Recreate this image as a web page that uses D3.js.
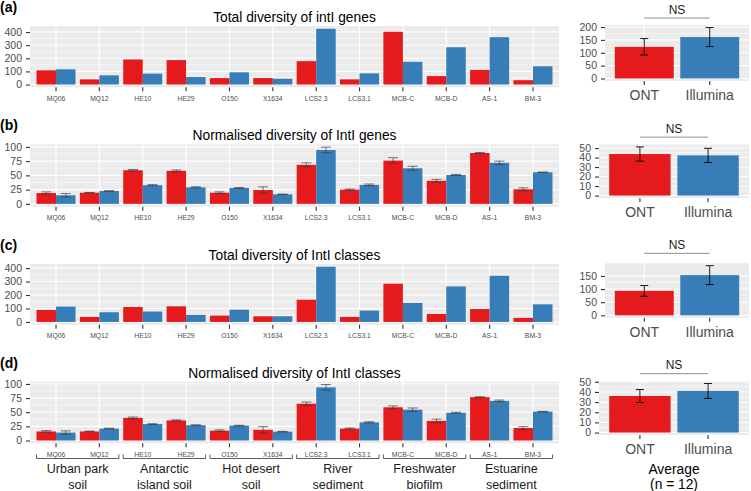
<!DOCTYPE html>
<html><head><meta charset="utf-8">
<script src="https://cdn.jsdelivr.net/npm/d3@7"></script>
<style>
body{margin:0;background:#fff}
svg{display:block}
</style>
</head><body>
<svg id="chart" width="751" height="491"></svg>
<script>
// ---------------- DATA ----------------
const sites = ["MQ06","MQ12","HE10","HE29","O150","X1634","LCS2.3","LCS3.1","MCB-C","MCB-D","AS-1","BM-3"];
const habitats = [["Urban park","soil"],["Antarctic","island soil"],["Hot desert","soil"],["River","sediment"],["Freshwater","biofilm"],["Estuarine","sediment"]];
const methods = ["ONT","Illumina"];

const totalGenesONT = [108,39,191,186,49,49,178,39,402,64,111,33];
const totalGenesIll = [116,70,83,57,93,44,425,85,173,284,361,139];

const normGenesONT    = [19,19.6,59,58,19.6,24.4,68.5,25,76,40.5,89.3,25.6];
const normGenesONTErr = [2,0.5,1.5,1.5,1.5,5.5,3.5,1,5,2.5,1,2.5];
const normGenesIll    = [15,22.6,32.7,29,28,16.7,94.6,33.3,62.5,50.6,72,55.4];
const normGenesIllErr = [3,0.5,1,1,0.5,0.5,5,1.5,3.5,1,3,0.5];

const totalClassesONT = [89,37,111,116,47,42,165,37,284,59,96,30];
const totalClassesIll = [114,72,77,52,91,42,410,84,141,264,343,131];

const normClassesONT    = [16,16,40,35.5,17.4,19,65,21,58.7,34.7,76.6,22];
const normClassesONTErr = [1.5,0.5,1.5,1,1.5,5.5,3,1,2.5,3,0.7,2.5];
const normClassesIll    = [14,21,29,27,26.3,15.6,94,32,54.5,49,70,51];
const normClassesIllErr = [3,0.7,0.7,0.8,0.6,0.5,5,1,3,1,1.5,0.5];

const avgTotalGenes      = [123,161];   const avgTotalGenesErr   = [32,37];
const avgNormGenes       = [43.7,42.3]; const avgNormGenesErr    = [7.5,7.5];
const avgTotalClasses    = [93,153];    const avgTotalClassesErr = [20.5,36];
const avgNormClasses     = [36,41];     const avgNormClassesErr  = [6.4,7.35];

const yTicksTotal      = [0,100,200,300,400];
const yTicksNorm       = [0,25,50,75,100];
const yTicksAvgGenes   = [0,50,100,150,200];
const yTicksAvgClasses = [0,50,100,150];
const yTicksAvgNorm    = [0,10,20,30,40,50];

const panelLabels = ["(a)","(b)","(c)","(d)"];
const titles = ["Total diversity of intI genes","Normalised diversity of IntI genes","Total diversity of IntI classes","Normalised diversity of IntI classes"];
const sigLabel = "NS";
const avgTitle = ["Average","(n = 12)"];

// ---------------- STYLE / LAYOUT ----------------
const FONT = '"Liberation Sans", Arial, Helvetica, sans-serif';
const COLORS = {ONT:"#E41A1C", Illumina:"#377EB8"};
const svg = d3.select("#chart");

const rows = [
  {ont:totalGenesONT, ill:totalGenesIll, ontErr:null, illErr:null, ticks:yTicksTotal,
   avg:avgTotalGenes, avgErr:avgTotalGenesErr, avgTicks:yTicksAvgGenes, nsVal:235,
   top:26, bottom:87.3, rLeft:605, rTop:25, rBottom:81},
  {ont:normGenesONT, ill:normGenesIll, ontErr:normGenesONTErr, illErr:normGenesIllErr, ticks:yTicksNorm,
   avg:avgNormGenes, avgErr:avgNormGenesErr, avgTicks:yTicksAvgNorm, nsVal:61.5,
   top:144.3, bottom:206.7, rLeft:599, rTop:144.5, rBottom:198},
  {ont:totalClassesONT, ill:totalClassesIll, ontErr:null, illErr:null, ticks:yTicksTotal,
   avg:avgTotalClasses, avgErr:avgTotalClassesErr, avgTicks:yTicksAvgClasses, nsVal:236,
   top:264, bottom:324.7, rLeft:605, rTop:263.2, rBottom:317.8},
  {ont:normClassesONT, ill:normClassesIll, ontErr:normClassesONTErr, illErr:normClassesIllErr, ticks:yTicksNorm,
   avg:avgNormClasses, avgErr:avgNormClassesErr, avgTicks:yTicksAvgNorm, nsVal:58,
   top:381.7, bottom:443.3, rLeft:599, rTop:381, rBottom:435}
];
const LEFT_X0 = 30, LEFT_X1 = 559, RIGHT_X1 = 749;

function drawPanel(o) {
  const g = svg.append("g");
  const x = d3.scaleBand().domain(o.cats).range([o.x0, o.x1]).paddingInner(0).paddingOuter(0.1);
  const bw = x.bandwidth();
  const sub = d3.scaleBand().domain(o.keys).range([0.05*bw, 0.95*bw]);
  const maxV = d3.max(o.bars, d => d.value + (d.err || 0));
  const y = d3.scaleLinear().domain([-0.05*maxV, 1.05*maxV]).range([o.bottom, o.top]);

  g.append("rect").attr("x", o.x0).attr("y", o.top)
    .attr("width", o.x1 - o.x0).attr("height", o.bottom - o.top).attr("fill", "#EBEBEB");
  const minors = d3.pairs(o.ticks).map(([a,b]) => (a+b)/2);
  g.selectAll(null).data(minors).join("line")
    .attr("x1", o.x0).attr("x2", o.x1).attr("y1", d => y(d)).attr("y2", d => y(d))
    .attr("stroke", "#fff").attr("stroke-width", 0.55);
  g.selectAll(null).data(o.ticks).join("line")
    .attr("x1", o.x0).attr("x2", o.x1).attr("y1", d => y(d)).attr("y2", d => y(d))
    .attr("stroke", "#fff").attr("stroke-width", 1.1);
  g.selectAll(null).data(o.cats).join("line")
    .attr("x1", d => x(d) + bw/2).attr("x2", d => x(d) + bw/2).attr("y1", o.top).attr("y2", o.bottom)
    .attr("stroke", "#fff").attr("stroke-width", 1.1);

  g.selectAll(null).data(o.bars).join("rect")
    .attr("x", d => x(d.cat) + sub(d.key)).attr("width", sub.bandwidth())
    .attr("y", d => y(d.value)).attr("height", d => y(0) - y(d.value))
    .attr("fill", d => d.color);

  const eb = o.bars.filter(d => d.err != null);
  const cx = d => x(d.cat) + sub(d.key) + sub.bandwidth()/2;
  const eg = g.selectAll(null).data(eb).join("g")
    .attr("stroke", o.errColor).attr("stroke-width", o.errWidth).attr("fill", "none");
  eg.append("line").attr("x1", cx).attr("x2", cx).attr("y1", d => y(d.value - d.err)).attr("y2", d => y(d.value + d.err));
  eg.append("line").attr("x1", d => cx(d) - o.cap).attr("x2", d => cx(d) + o.cap).attr("y1", d => y(d.value - d.err)).attr("y2", d => y(d.value - d.err));
  eg.append("line").attr("x1", d => cx(d) - o.cap).attr("x2", d => cx(d) + o.cap).attr("y1", d => y(d.value + d.err)).attr("y2", d => y(d.value + d.err));

  const ya = g.append("g").attr("transform", `translate(${o.x0},0)`)
    .call(d3.axisLeft(y).tickValues(o.ticks).tickSize(4).tickPadding(4).tickFormat(d3.format("d")));
  ya.select(".domain").remove();
  ya.attr("font-family", FONT).attr("font-size", o.yFont);
  ya.selectAll("line").attr("stroke", "#333").attr("stroke-width", 1.1);
  ya.selectAll("text").attr("fill", "#4D4D4D");

  const xa = g.append("g").attr("transform", `translate(0,${o.bottom})`)
    .call(d3.axisBottom(x).tickSize(4).tickPadding(o.xPad));
  xa.select(".domain").remove();
  xa.attr("font-family", FONT).attr("font-size", o.xFont);
  xa.selectAll("line").attr("stroke", "#333").attr("stroke-width", 1.1);
  xa.selectAll("text").attr("fill", "#4D4D4D");
  return {x, y, g};
}

rows.forEach((r, i) => {
  // panel label
  svg.append("text").attr("x", 0).attr("y", r.top - 14).text(panelLabels[i])
    .attr("font-family", FONT).attr("font-weight", "bold").attr("font-size", 14).attr("fill", "#000");
  // title
  svg.append("text").attr("x", (LEFT_X0 + LEFT_X1)/2).attr("y", r.top - 4).attr("text-anchor", "middle")
    .text(titles[i]).attr("font-family", FONT).attr("font-size", 13.8).attr("fill", "#000");

  const bars = [];
  sites.forEach((s, j) => {
    bars.push({cat:s, key:"ONT", value:r.ont[j], err:r.ontErr ? r.ontErr[j] : null, color:COLORS.ONT});
    bars.push({cat:s, key:"Illumina", value:r.ill[j], err:r.illErr ? r.illErr[j] : null, color:COLORS.Illumina});
  });
  const L = drawPanel({cats:sites, keys:methods, bars, x0:LEFT_X0, x1:LEFT_X1, top:r.top, bottom:r.bottom,
    ticks:r.ticks, xFont:6.8, xPad:4.7, yFont:10.5, errColor:"#3a3a3a", errWidth:0.7, cap:5});

  const abars = methods.map((m, j) => ({cat:m, key:"all", value:r.avg[j], err:r.avgErr[j], color:COLORS[m]}));
  const R = drawPanel({cats:methods, keys:["all"], bars:abars, x0:r.rLeft, x1:RIGHT_X1, top:r.rTop, bottom:r.rBottom,
    ticks:r.avgTicks, xFont:14, xPad:5.5, yFont:10.5, errColor:"#000", errWidth:0.9, cap:4});

  // significance annotation
  const xa = R.x("ONT") + R.x.bandwidth()/2, xb = R.x("Illumina") + R.x.bandwidth()/2;
  const ly = R.y(r.nsVal);
  svg.append("line").attr("x1", xa).attr("x2", xb).attr("y1", ly).attr("y2", ly)
    .attr("stroke", "#8f8f8f").attr("stroke-width", 1);
  svg.append("text").attr("x", (xa + xb)/2).attr("y", ly - 4.4).attr("text-anchor", "middle")
    .text(sigLabel).attr("font-family", FONT).attr("font-size", 12).attr("fill", "#1a1a1a");

  if (i === rows.length - 1) {
    // habitat brackets
    const bw = L.x.bandwidth();
    const by = 458.5;
    habitats.forEach((h, k) => {
      const a = L.x(sites[2*k]) + 0.05*bw, b = L.x(sites[2*k+1]) + 0.95*bw;
      svg.append("path").attr("d", `M${a},${by-4}V${by}H${b}V${by-4}`)
        .attr("fill", "none").attr("stroke", "#333").attr("stroke-width", 0.8);
      h.forEach((line, li) => {
        svg.append("text").attr("x", (a + b)/2).attr("y", 473 + li*15.5).attr("text-anchor", "middle")
          .text(line).attr("font-family", FONT).attr("font-size", 12.5).attr("fill", "#1a1a1a");
      });
    });
    const cxm = (r.rLeft + RIGHT_X1)/2;
    avgTitle.forEach((t, li) => {
      svg.append("text").attr("x", cxm).attr("y", 474 + li*15).attr("text-anchor", "middle")
        .text(t).attr("font-family", FONT).attr("font-size", 13.8).attr("fill", "#000");
    });
  }
});
</script>
</body></html>
